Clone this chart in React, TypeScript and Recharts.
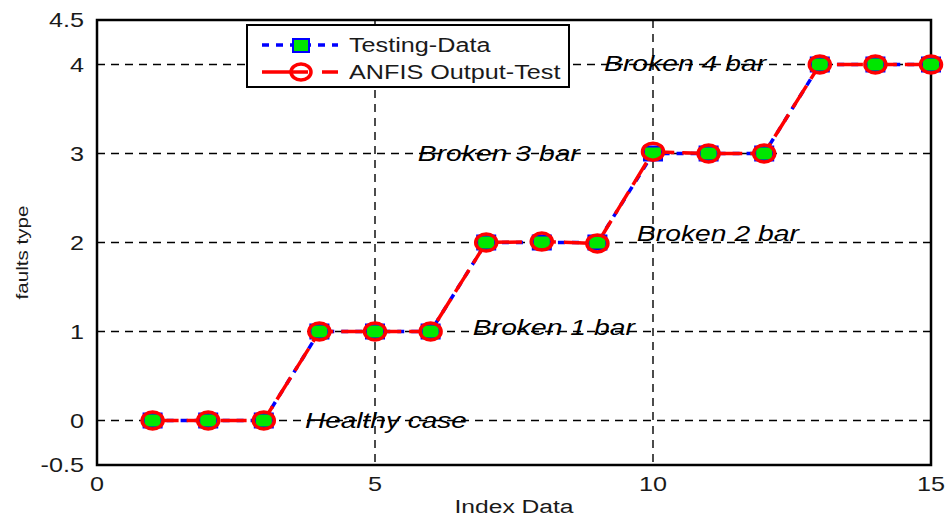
import React from 'react'
import {
  LineChart, Line, XAxis, YAxis, CartesianGrid, ReferenceArea, ReferenceDot
} from 'recharts'

const indexData = [1, 2, 3, 4, 5, 6, 7, 8, 9, 10, 11, 12, 13, 14, 15]
const testingData = [0, 0, 0, 1, 1, 1, 2, 2, 2, 3, 3, 3, 4, 4, 4]
const anfisOutput = [0, 0, 0, 1, 1, 1.0, 2, 2.01, 1.99, 3.02, 3, 3, 4, 4, 4]

const xTicks = [0, 5, 10, 15]
const yTicks = [-0.5, 0, 1, 2, 3, 4, 4.5]

const noteText = ['Healthy case', 'Broken 1 bar', 'Broken 2 bar', 'Broken 3 bar', 'Broken 4 bar']
const noteX = [3.74, 6.76, 9.71, 5.77, 9.12]
const noteY = [0, 1.04, 2.09, 2.99, 4.01]

const FONT = '"Liberation Sans", Arial, sans-serif'
const SX = 1.26 // the original picture is stretched sideways

const data = indexData.map((x, i) => ({ x, test: testingData[i], anfis: anfisOutput[i] }))
const notes = noteText.map((t, i) => ({ t, x: noteX[i], y: noteY[i] }))

const SquareDot = (p: any) => (
  <rect key={p.index} x={p.cx - 9} y={p.cy - 7} width={18} height={14} fill="#00e600" stroke="#0000ff" strokeWidth={2} />
)
const CircleDot = (p: any) => (
  <ellipse key={p.index} cx={p.cx} cy={p.cy} rx={10.5} ry={8.5} fill="none" stroke="#ff0000" strokeWidth={3.5} />
)

const XTick = (p: any) => (
  <text transform={`translate(${p.x},${p.y}) scale(${SX},1)`} dy={16} textAnchor="middle" fontSize={20} fontFamily={FONT} fill="#1a1a1a">
    {p.payload.value}
  </text>
)
const YTick = (p: any) => (
  <text transform={`translate(${p.x},${p.y}) scale(${SX},1)`} dy={7} textAnchor="end" fontSize={20} fontFamily={FONT} fill="#1a1a1a">
    {p.payload.value}
  </text>
)

const App: React.FC = () => {
  return (
    <div style={{ position: 'absolute', left: 0, top: 0, width: 948, height: 518, background: '#fff' }}>
      <LineChart width={948} height={518} data={data} margin={{ top: 20, right: 17, bottom: 0, left: 0 }}>
        <CartesianGrid stroke="#000" strokeWidth={1.4} strokeDasharray="8 6" />
        <XAxis
          dataKey="x" type="number" domain={[0, 15]} ticks={xTicks}
          height={53} tickLine={false} axisLine={false} tick={XTick} tickMargin={4}
          label={{
            content: ({ viewBox }: any) => (
              <text x={viewBox.x + viewBox.width / 2} y={513} textAnchor="middle" fontSize={18} fontFamily={FONT} fill="#1a1a1a"
                textLength={119} lengthAdjust="spacingAndGlyphs">
                Index Data
              </text>
            ),
          }}
        />
        <YAxis
          type="number" domain={[-0.5, 4.5]} ticks={yTicks} width={97}
          tickLine={false} axisLine={false} tick={YTick} tickMargin={7}
          label={{
            content: ({ viewBox }: any) => (
              <text x={0} y={0} transform={`translate(${viewBox.x + 28},${viewBox.y + viewBox.height / 2 + 10}) rotate(-90)`} textAnchor="middle" fontSize={17} fontFamily={FONT} fill="#1a1a1a"
                textLength={94} lengthAdjust="spacingAndGlyphs">
                faults type
              </text>
            ),
          }}
        />
        <ReferenceArea x1={0} x2={15} y1={-0.5} y2={4.5} fill="none" stroke="#000" strokeWidth={2.5} fillOpacity={0} />
        {notes.map((n) => (
          <ReferenceDot
            key={n.t} x={n.x} y={n.y} r={1}
            shape={(p: any) => (
              <text x={p.cx} y={p.cy} dy={7} fontSize={22} fontStyle="italic" fontFamily={FONT} fill="#000"
                textLength={162} lengthAdjust="spacingAndGlyphs">
                {n.t}
              </text>
            )}
          />
        ))}
        <Line
          dataKey="test" type="linear" stroke="#0000ff" strokeWidth={3.5} strokeDasharray="7 7"
          dot={SquareDot} isAnimationActive={false}
        />
        <Line
          dataKey="anfis" type="linear" stroke="#ff0000" strokeWidth={3.5} strokeDasharray="26 8"
          dot={CircleDot} isAnimationActive={false}
        />
      </LineChart>
      <div style={{
        position: 'absolute', left: 246, top: 24, width: 320, height: 60, border: '2px solid #000',
        background: '#fff', fontFamily: FONT, fontSize: 20, color: '#1a1a1a'
      }}>
        <div style={{ position: 'absolute', left: 12, top: 6, height: 26, display: 'flex', alignItems: 'center' }}>
          <svg width={80} height={26}>
            <line x1={2} y1={13} x2={78} y2={13} stroke="#0000ff" strokeWidth={3.5} strokeDasharray="7 7" />
            <rect x={33} y={7} width={16} height={13} fill="#00e600" stroke="#0000ff" strokeWidth={2} />
          </svg>
          <span style={{ marginLeft: 9, display: 'inline-block', transform: `scaleX(${SX})`, transformOrigin: 'left center' }}>Testing-Data</span>
        </div>
        <div style={{ position: 'absolute', left: 12, top: 33, height: 26, display: 'flex', alignItems: 'center' }}>
          <svg width={80} height={26}>
            <line x1={2} y1={13} x2={78} y2={13} stroke="#ff0000" strokeWidth={3.5} strokeDasharray="46 14" />
            <ellipse cx={41} cy={13} rx={10} ry={8} fill="none" stroke="#ff0000" strokeWidth={3.5} />
          </svg>
          <span style={{ marginLeft: 9, display: 'inline-block', transform: `scaleX(${SX})`, transformOrigin: 'left center' }}>ANFIS Output-Test</span>
        </div>
      </div>
    </div>
  )
}

export default App
